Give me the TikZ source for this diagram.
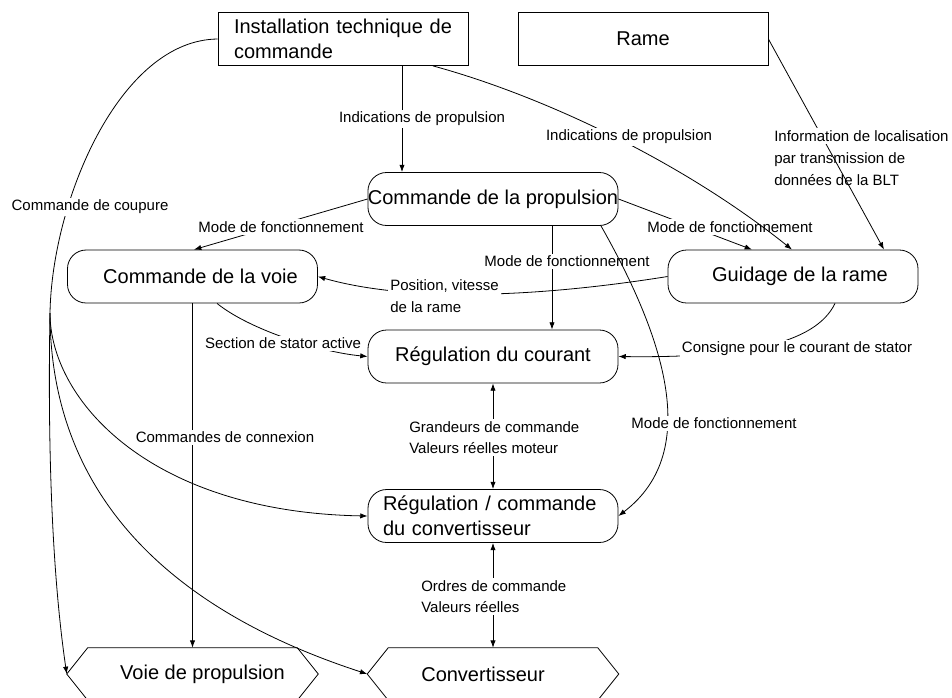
\documentclass[tikz,border=0pt]{standalone}
\usepackage{fontspec}
\setmainfont{Liberation Sans}
\usetikzlibrary{arrows.meta}

\newcommand\nodefont{\fontsize{15pt}{18.75pt}\selectfont}
\newcommand\lblfont{\fontsize{11.25pt}{16.2pt}\selectfont}

\tikzset{
  box/.style={draw, line width=0.6pt, minimum width=187.5pt, minimum height=39.75pt,
              inner sep=0pt, font=\nodefont},
  rbox/.style={box, rounded corners=14pt},
  hexbox/.style={minimum width=188.25pt, minimum height=39pt, inner sep=0pt, font=\nodefont},
  hexline/.style={line width=0.6pt},
  conn/.style={line width=0.6pt},
  tip/.style={-{Latex[length=5.5pt,width=4pt]}},
  arr/.style={conn, tip},
  darr/.style={conn, {Latex[length=5.5pt,width=4pt]}-{Latex[length=5.5pt,width=4pt]}},
  lbl/.style={font=\lblfont, inner sep=1.5pt, fill=white},
  lbltext/.style={font=\lblfont, inner sep=1.5pt, align=left},
}

\begin{document}
\begin{tikzpicture}[x=0.75pt, y=-0.75pt]
  \useasboundingbox (0,0) rectangle (952,697);
  \fill[white] (0,0) rectangle (952,697);

  % ---- blocks ----
  \node[box, text width=163.5pt, align=left] (inst) at (343,39) {Installation technique de\\commande};
  \node[box] (rame) at (643,39) {Rame};
  \node[rbox] (cp) at (493,199) {Commande de la propulsion};
  \node[rbox] (cv) at (192.5,276.5) {\kern12pt Commande de la voie};
  \node[rbox] (gr) at (793,276.5) {\kern10.5pt Guidage de la rame};
  \node[rbox] (rc) at (493,356.5) {Régulation du courant};
  \node[rbox, text width=165pt, align=left] (rcc) at (493,516) {Régulation / commande\\du convertisseur};
  \node[hexbox] (vp) at (192.5,674) {\kern15pt Voie de propulsion};
  \node[hexbox] (conv) at (493,674) {Convertisseur\kern15pt};

  % hexagonal outlines of the two field blocks
  \foreach \h in {vp,conv} {
    \draw[hexline] (\h.west) -- ([xshift=15.75pt]\h.north west) -- ([xshift=-15.75pt]\h.north east)
      -- (\h.east) -- ([xshift=-15.75pt]\h.south east) -- ([xshift=15.75pt]\h.south west) -- cycle;
  }

  % ---- connectors ----
  \draw[arr] (inst.south -| 402,0) -- (cp.north -| 402,0);
  \draw[arr] (rame.east) -- (gr.north -| 884,0);
  \draw[arr] (cp.west) -- (cv.north -| 194,0);
  \draw[arr] (cp.east) -- (gr.north -| 752,0);
  \draw[arr] (cp.south -| 552,0) -- (rc.north -| 552,0);
  \draw[arr] (gr.west) .. controls (520,300) and (400,300) .. (cv.east);
  \draw[arr] (cv.south -| 217,0) .. controls (250,330) and (320,352) .. (rc.west);
  \draw[arr] (cv.south) -- (vp.north);
  \draw[arr] (gr.south -| 835,0) .. controls (815,345) and (740,358) .. (rc.east);
  \draw[darr] (rc.south) -- (rcc.north);
  \draw[darr] (rcc.south) -- (conv.north);

  % cut-off commands fanning out from the control installation
  \coordinate (split) at (50,313);
  \draw[conn] (inst.west) .. controls (120,40) and (52,200) .. (split);
  \draw[arr] (split) .. controls (48,420) and (50,560) .. (vp.west);
  \draw[arr] (split) .. controls (50,470) and (140,600) .. (conv.west);
  \draw[arr] (split) .. controls (50,400) and (150,512) .. (rcc.west);

  % ---- labels ----
  \node[lbl] (l1) at (422,119) {Indications de propulsion};
  \node[lbl] (l5) at (730,227) {Mode de fonctionnement};
  \draw[arr] (inst.south -| 433,0) .. controls (540,95) and (680,160) .. (gr.north -| 792,0);
  \node[lbl] (l2) at (629,137) {Indications de propulsion};
  \node[lbl, anchor=west] (l3) at (772,136) {Information de localisation};
  \node[lbltext, anchor=west] (l3b) at (772,169) {par transmission de\\données de la BLT};
  \node[lbl] (l4) at (90,207) {Commande de coupure};
  \node[lbl] (l6) at (281,227) {Mode de fonctionnement};
  \node[lbl] (l7) at (567,261) {Mode de fonctionnement};
  \draw[arr] (cp.south -| 601,0) .. controls (660,330) and (705,450) .. (rcc.east);
  \node[lbl, align=left, anchor=west] (l8) at (388,296) {Position, vitesse\\de la rame};
  \node[lbl] (l9) at (283,343) {Section de stator active};
  \node[lbl] (l10) at (797,349) {Consigne pour le courant de stator};
  \node[lbl] (l11) at (225,437) {Commandes de connexion};
  \node[lbl, align=left, anchor=west] (l12) at (407,437.5) {Grandeurs de commande\\Valeurs réelles moteur};
  \node[lbl] (l13) at (714,423) {Mode de fonctionnement};
  \node[lbl, align=left, anchor=west] (l14) at (419,596.5) {Ordres de commande\\Valeurs réelles};
\end{tikzpicture}
\end{document}
